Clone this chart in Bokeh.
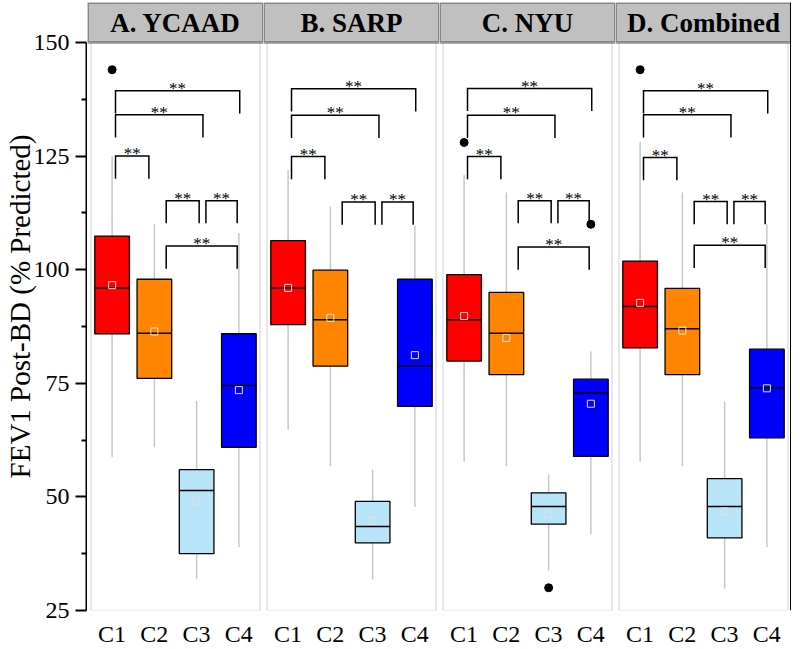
import numpy as np
from bokeh.plotting import figure
from bokeh.models import Range1d, FixedTicker, BoxAnnotation, Span, Label
from bokeh.layouts import row
from bokeh.embed import file_html
from bokeh.resources import INLINE
from bokeh.core.properties import value

# ---------------- data ----------------
categories = ["C1", "C2", "C3", "C4"]
panel_titles = ["A. YCAAD", "B. SARP", "C. NYU", "D. Combined"]
box_colors = ["#ff0000", "#ff8400", "#b8e4f9", "#0000ff"]
y_ticks = [25, 50, 75, 100, 125, 150]
y_minor_ticks = [37.5, 62.5, 87.5, 112.5, 137.5]
y_label = "FEV1 Post-BD (% Predicted)"
sig_label = "**"

# A. YCAAD
ycaad_low = [58.7, 60.9, 32.0, 38.9]
ycaad_q1 = [85.9, 76.1, 37.5, 60.9]
ycaad_median = [96.0, 86.0, 51.4, 74.5]
ycaad_q3 = [107.4, 97.9, 56.0, 85.9]
ycaad_high = [125.0, 110.0, 71.1, 108.1]
ycaad_mean = [96.6, 86.4, 49.0, 73.5]
ycaad_outlier_cat = ["C1"]
ycaad_outlier_val = [144.0]
ycaad_pairs = [("C1", "C4"), ("C1", "C3"), ("C1", "C2"), ("C2", "C3"), ("C3", "C4"), ("C2", "C4")]
ycaad_levels = [139.4, 134.1, 125.0, 115.2, 115.2, 105.2]

# B. SARP
sarp_low = [64.8, 56.8, 31.8, 47.8]
sarp_q1 = [87.9, 78.8, 39.9, 69.9]
sarp_median = [96.0, 89.0, 43.5, 78.8]
sarp_q3 = [106.4, 99.9, 49.0, 97.9]
sarp_high = [122.0, 113.9, 56.0, 109.6]
sarp_mean = [96.0, 89.4, 44.7, 81.2]
sarp_outlier_cat = []
sarp_outlier_val = []
sarp_pairs = [("C1", "C4"), ("C1", "C3"), ("C1", "C2"), ("C2", "C3"), ("C3", "C4")]
sarp_levels = [139.8, 134.0, 124.9, 114.9, 114.9]

# C. NYU
nyu_low = [57.8, 56.8, 33.8, 41.8]
nyu_q1 = [79.9, 76.9, 44.0, 58.9]
nyu_median = [89.0, 86.0, 47.9, 72.9]
nyu_q3 = [98.9, 95.0, 50.9, 75.9]
nyu_high = [120.9, 117.0, 54.9, 82.0]
nyu_mean = [89.8, 85.0, 46.2, 70.5]
nyu_outlier_cat = ["C1", "C3", "C4"]
nyu_outlier_val = [128.0, 30.0, 110.0]
nyu_pairs = [("C1", "C4"), ("C1", "C3"), ("C1", "C2"), ("C2", "C3"), ("C3", "C4"), ("C2", "C4")]
nyu_levels = [139.9, 134.0, 124.9, 115.2, 115.2, 105.0]

# D. Combined
comb_low = [57.8, 56.8, 29.8, 38.9]
comb_q1 = [82.8, 76.9, 41.0, 63.0]
comb_median = [91.9, 87.0, 47.9, 74.0]
comb_q3 = [101.9, 95.9, 54.0, 82.5]
comb_high = [128.1, 117.0, 71.0, 110.0]
comb_mean = [92.7, 86.6, 46.8, 73.9]
comb_outlier_cat = ["C1"]
comb_outlier_val = [144.0]
comb_pairs = [("C1", "C4"), ("C1", "C3"), ("C1", "C2"), ("C2", "C3"), ("C3", "C4"), ("C2", "C4")]
comb_levels = [139.4, 134.1, 124.7, 115.0, 115.0, 105.4]

# ---------------- style ----------------
FONT = "Liberation Serif"
COL_W = 176
PLOT_H = 568          # pixels for the 25..150 data band
HEAD_H = 40           # pixels for the header strip
TOP = 2
PAD_PX = 3.5
PX_PER_UNIT = (COL_W - 2 * PAD_PX) / len(categories)
PAD = PAD_PX / PX_PER_UNIT
BOX_W = 0.82
LEG = 5.0
WHISKER = "#c8c8c8"
FRAME_GRAY = "#a0a0a0"
Y0, Y1 = 25, 150
Y_TOP = Y1 + HEAD_H * (Y1 - Y0) / PLOT_H
# bracket leg offsets (left, right) in category units
LEG_OFFSETS = {
    ("C1", "C4"): (0.08, 0.02),
    ("C1", "C3"): (0.08, 0.15),
    ("C1", "C2"): (0.08, -0.13),
    ("C2", "C3"): (0.28, 0.06),
    ("C3", "C4"): (0.22, -0.04),
    ("C2", "C4"): (0.28, -0.04),
}

pos_of = {c: i + 1 for i, c in enumerate(categories)}
positions = [pos_of[c] for c in categories]


def make_axis_figure():
    a = figure(
        x_range=Range1d(0, 1), y_range=Range1d(Y0, Y_TOP),
        frame_width=1, frame_height=PLOT_H + HEAD_H,
        min_border_left=0, min_border_right=0,
        min_border_top=TOP, min_border_bottom=14,
        x_axis_location=None, y_axis_location="left",
        output_backend="svg", toolbar_location=None,
        outline_line_color=None, background_fill_color="white",
    )
    a.grid.visible = False
    ax = a.yaxis[0]
    ax.bounds = (Y0, Y1)
    ax.ticker = FixedTicker(ticks=y_ticks, minor_ticks=y_minor_ticks)
    ax.axis_line_width = 2
    ax.axis_line_color = "black"
    ax.major_tick_out = 11
    ax.major_tick_in = 0
    ax.minor_tick_out = 5
    ax.minor_tick_in = 0
    ax.major_tick_line_width = 2
    ax.minor_tick_line_width = 2
    ax.major_label_text_font = FONT
    ax.major_label_text_font_size = "24px"
    ax.major_label_text_color = "black"
    ax.major_label_standoff = 6
    ax.axis_label = y_label
    ax.axis_label_text_font = FONT
    ax.axis_label_text_font_size = "29px"
    ax.axis_label_text_font_style = "normal"
    ax.axis_label_text_color = "black"
    ax.axis_label_standoff = -5
    return a


def make_panel(idx, title, low, q1, med, q3, high, mean, out_cat, out_val, pairs, levels):
    last = idx == len(panel_titles) - 1
    x0, x1 = 0.5 - PAD, len(categories) + 0.5 + PAD
    p = figure(
        x_range=Range1d(x0, x1),
        y_range=Range1d(Y0, Y_TOP),
        frame_width=COL_W, frame_height=PLOT_H + HEAD_H,
        min_border_left=0, min_border_right=0,
        min_border_top=TOP, min_border_bottom=0,
        y_axis_location=None,
        output_backend="svg", toolbar_location=None,
        outline_line_color=None, background_fill_color="white",
    )
    p.grid.visible = False

    # gray panel frame
    p.add_layout(BoxAnnotation(left=0.5, right=len(categories) + 0.5, bottom=Y0, top=Y1,
                               fill_alpha=0, line_color=FRAME_GRAY, line_width=1.6))
    # header strip
    p.add_layout(BoxAnnotation(bottom=Y1, fill_color="#c0c0c0", fill_alpha=1,
                               line_color="black", line_width=3))
    p.add_layout(Label(x=(x0 + x1) / 2, y=(Y1 + Y_TOP) / 2, text=title,
                       text_font=FONT, text_font_style="bold", text_font_size="27px",
                       text_align="center", text_baseline="middle", text_color="black"))

    pos = np.array(positions, dtype=float)
    # whiskers
    p.segment(x0=pos, y0=q3, x1=pos, y1=high, line_color=WHISKER, line_width=1.5)
    p.segment(x0=pos, y0=q1, x1=pos, y1=low, line_color=WHISKER, line_width=1.5)
    # boxes
    p.vbar(x=pos, width=BOX_W, bottom=q1, top=q3, fill_color=box_colors,
           line_color="black", line_width=1.3)
    # medians
    p.segment(x0=pos - BOX_W / 2, y0=med, x1=pos + BOX_W / 2, y1=med,
              line_color="black", line_width=1.5)
    # means
    p.scatter(x=pos, y=mean, marker="square", size=7, fill_color=None,
              line_color="#e0e0e0", line_width=1)
    # outliers
    if out_cat:
        p.scatter(x=[pos_of[c] for c in out_cat], y=out_val, size=8,
                  fill_color="black", line_color="black")
    # significance brackets
    xs, ys, tx, ty = [], [], [], []
    for (a, b), lvl in zip(pairs, levels):
        ol, orr = LEG_OFFSETS[(a, b)]
        xl = pos_of[a] + ol
        xr = pos_of[b] + orr
        xs.append([xl, xl, xr, xr])
        ys.append([lvl - LEG, lvl, lvl, lvl - LEG])
        tx.append((xl + xr) / 2)
        ty.append(lvl + 0.5)
    p.multi_line(xs=xs, ys=ys, line_color="black", line_width=1.5, line_join="miter")
    p.text(x=tx, y=ty, text=[sig_label] * len(tx), text_font=value(FONT),
           text_font_size="17px", text_align="center", text_baseline="alphabetic",
           text_color="black")

    # x axis
    p.xaxis.ticker = FixedTicker(ticks=positions)
    p.xaxis.major_label_overrides = {pos_of[c]: c for c in categories}
    p.xaxis.axis_line_color = None
    p.xaxis.major_tick_line_color = None
    p.xaxis.minor_tick_line_color = None
    p.xaxis.major_label_text_font = FONT
    p.xaxis.major_label_text_font_size = "24px"
    p.xaxis.major_label_text_color = "black"
    p.xaxis.major_label_standoff = 4

    if last:
        p.add_layout(Span(location=x1, dimension="height",
                          line_color="black", line_width=3))
    return p


panel_data = [
    (ycaad_low, ycaad_q1, ycaad_median, ycaad_q3, ycaad_high, ycaad_mean,
     ycaad_outlier_cat, ycaad_outlier_val, ycaad_pairs, ycaad_levels),
    (sarp_low, sarp_q1, sarp_median, sarp_q3, sarp_high, sarp_mean,
     sarp_outlier_cat, sarp_outlier_val, sarp_pairs, sarp_levels),
    (nyu_low, nyu_q1, nyu_median, nyu_q3, nyu_high, nyu_mean,
     nyu_outlier_cat, nyu_outlier_val, nyu_pairs, nyu_levels),
    (comb_low, comb_q1, comb_median, comb_q3, comb_high, comb_mean,
     comb_outlier_cat, comb_outlier_val, comb_pairs, comb_levels),
]

axis_fig = make_axis_figure()
panels = [make_panel(i, panel_titles[i], *d) for i, d in enumerate(panel_data)]
layout = row(axis_fig, *panels, spacing=0)

open("out.html", "w").write(file_html(layout, INLINE))
